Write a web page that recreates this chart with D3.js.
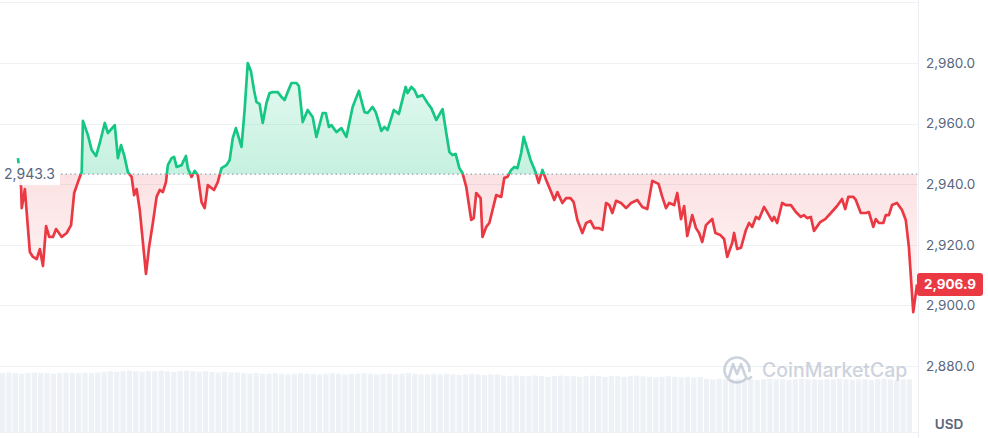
<!DOCTYPE html>
<html>
<head>
<meta charset="utf-8">
<script src="https://cdn.jsdelivr.net/npm/d3@7"></script>
<style>
body { margin: 0; background: #fff; }
svg { display: block; font-family: Inter, "Noto Sans", sans-serif; }
</style>
</head>
<body>
<script>
var width = 988,
  height = 438;

// minutes since the start of the day, and the price at each of them
var minutes = [
  0,5,6,11,19,24,30,35,40,45,
  50,56,61,70,78,85,90,96,102,104,
  112,118,125,131,139,144,155,160,165,170,
  176,182,186,190,195,205,210,216,222,227,
  232,237,240,246,250,254,262,269,272,278,
  283,288,294,299,304,314,320,326,334,339,
  344,349,358,363,368,373,378,382,387,392,
  398,403,408,416,422,427,432,438,446,450,
  456,464,472,478,488,493,498,502,510,518,
  526,536,546,555,560,568,573,582,587,592,
  602,610,621,624,630,635,640,648,656,662,
  670,680,686,691,696,701,707,712,718,726,
  730,734,741,744,750,755,766,774,779,784,
  790,795,800,806,810,814,821,829,834,840,
  846,854,859,864,872,878,885,890,896,904,
  910,917,923,931,936,942,947,952,958,966,
  974,982,992,1000,1008,1016,1026,1032,1038,1043,
  1051,1056,1062,1067,1072,1080,1086,1091,1096,1102,
  1112,1117,1125,1131,1136,1144,1147,1152,1158,1166,
  1171,1176,1182,1187,1195,1200,1208,1211,1216,1224,
  1230,1238,1246,1254,1259,1264,1270,1275,1285,1293,
  1302,1312,1320,1325,1330,1338,1342,1350,1358,1363,
  1370,1374,1379,1386,1390,1395,1400,1408,1416,1422,
  1427,1434,1440
];

var prices = [
  2948.6,2938.7,2932.1,2938.4,2917.6,2916.0,2915.3,2918.6,2913.0,2926.2,
  2922.6,2922.6,2925.2,2922.6,2923.9,2926.5,2937.1,2940.7,2944.0,2960.9,
  2956.2,2951.3,2949.3,2953.6,2960.2,2956.9,2959.5,2948.6,2952.9,2949.6,
  2944.0,2942.4,2936.4,2938.4,2931.5,2910.4,2919.3,2927.2,2935.8,2938.1,
  2937.4,2940.7,2946.3,2948.6,2949.0,2945.7,2946.3,2949.3,2945.3,2942.4,
  2944.4,2943.0,2934.1,2932.1,2939.7,2938.1,2940.7,2945.3,2946.3,2948.0,
  2955.2,2958.5,2952.3,2964.5,2980.0,2977.4,2971.1,2967.1,2966.5,2960.2,
  2966.8,2970.1,2970.4,2970.4,2968.8,2967.8,2970.4,2973.4,2973.4,2972.4,
  2960.5,2964.5,2962.2,2955.6,2963.5,2963.5,2958.9,2959.5,2957.2,2958.5,
  2955.6,2965.5,2970.8,2963.8,2963.5,2965.5,2963.8,2957.6,2958.9,2957.9,
  2964.5,2963.2,2972.1,2970.1,2972.1,2971.1,2968.8,2969.4,2966.8,2965.1,
  2961.2,2964.8,2956.9,2950.6,2949.6,2950.0,2945.3,2943.7,2939.1,2928.2,
  2928.8,2937.1,2935.4,2922.6,2925.9,2927.2,2936.4,2935.8,2942.1,2942.4,
  2944.7,2945.7,2945.3,2950.3,2955.6,2952.9,2948.0,2944.0,2940.4,2944.7,
  2941.4,2937.4,2934.8,2937.4,2933.8,2935.4,2935.4,2934.1,2928.2,2923.9,
  2927.2,2927.9,2925.5,2925.5,2924.9,2933.8,2933.1,2930.5,2934.5,2933.8,
  2932.1,2933.8,2934.8,2932.5,2931.8,2941.1,2940.1,2935.8,2932.1,2933.8,
  2933.1,2937.1,2928.5,2932.8,2922.9,2929.8,2925.5,2923.9,2920.9,2926.5,
  2928.5,2923.9,2923.2,2921.9,2916.0,2920.6,2923.9,2918.6,2919.0,2924.9,
  2927.2,2925.9,2929.2,2928.5,2932.5,2930.8,2927.9,2929.2,2927.2,2933.8,
  2933.1,2933.1,2930.8,2929.2,2929.8,2928.8,2929.2,2924.6,2927.5,2928.5,
  2930.5,2932.8,2935.1,2931.8,2935.8,2935.8,2934.8,2930.5,2930.5,2930.8,
  2925.9,2928.5,2927.2,2927.2,2929.8,2929.8,2933.1,2933.8,2931.5,2928.2,
  2919.3,2897.8,2906.9
];

// relative volume, one bar every 10 minutes
var volumes = [
  95,96,95,94,95,96,95,95,94,95,96,95,95,96,95,96,
  97,98,97,98,99,98,97,98,98,99,98,97,98,99,98,97,98,97,96,97,96,96,
  95,94,95,94,94,95,94,93,94,95,94,94,93,94,95,94,93,94,94,95,94,93,94,94,93,94,95,94,93,93,94,93,94,93,92,93,94,93,92,93,93,
  91,90,91,90,90,91,90,89,90,91,90,90,89,90,91,90,89,90,90,89,90,91,90,89,88,89,90,89,88,89,88,89,
  86,85,86,85,85,86,85,85,84,85,86,85,85,84,85,86,85,85,84,85,85,86,85,84,85,85,84,85,86,85,84,85,85
];

var openPrice = 2943.3;
var lastPrice = 2906.9;
var gridTicks = [2880, 2900, 2920, 2940, 2960, 2980, 3000];
var labelTicks = [2880, 2900, 2920, 2940, 2960, 2980];

var green = "#16c784",
  red = "#ea3943",
  textGray = "#58667e",
  gridColor = "#eff2f5";

var plotRight = 918;

var svg = d3.select("body").append("svg")
  .attr("width", width)
  .attr("height", height);

var x = d3.scaleLinear().domain([0, 1440]).range([18, 917]);
var y = d3.scaleLinear().domain([2880, 2980]).range([366, 63]);
var vx = d3.scaleBand().domain(d3.range(volumes.length)).range([0, 912]).paddingInner(0.18);
var vy = d3.scaleLinear().domain([0, 100]).range([432, 370]);

var data = minutes.map(function(m, i) { return {m: m, p: prices[i]}; });
var yBase = y(openPrice);

var defs = svg.append("defs");

var gUp = defs.append("linearGradient")
  .attr("id", "gradUp")
  .attr("gradientUnits", "userSpaceOnUse")
  .attr("x1", 0).attr("x2", 0)
  .attr("y1", y(2980)).attr("y2", yBase);
gUp.append("stop").attr("offset", 0).attr("stop-color", green).attr("stop-opacity", 0.1);
gUp.append("stop").attr("offset", 1).attr("stop-color", green).attr("stop-opacity", 0.25);

var gDown = defs.append("linearGradient")
  .attr("id", "gradDown")
  .attr("gradientUnits", "userSpaceOnUse")
  .attr("x1", 0).attr("x2", 0)
  .attr("y1", yBase).attr("y2", y(2895));
gDown.append("stop").attr("offset", 0).attr("stop-color", red).attr("stop-opacity", 0.15);
gDown.append("stop").attr("offset", 1).attr("stop-color", red).attr("stop-opacity", 0.02);

defs.append("clipPath").attr("id", "clipUp")
  .append("rect").attr("x", 0).attr("y", 0).attr("width", plotRight).attr("height", yBase);
defs.append("clipPath").attr("id", "clipDown")
  .append("rect").attr("x", 0).attr("y", yBase).attr("width", plotRight).attr("height", height - yBase);

// volume
svg.append("g")
  .selectAll("rect")
  .data(volumes)
  .enter().append("rect")
    .attr("x", function(d, i) { return vx(i); })
    .attr("y", function(d) { return vy(d); })
    .attr("width", vx.bandwidth())
    .attr("height", function(d) { return vy(0) - vy(d); })
    .attr("fill", "#eef1f5");

// grid
svg.append("g")
  .selectAll("line")
  .data(gridTicks)
  .enter().append("line")
    .attr("x1", 0)
    .attr("x2", plotRight)
    .attr("y1", function(d) { return Math.round(y(d)) + 0.5; })
    .attr("y2", function(d) { return Math.round(y(d)) + 0.5; })
    .attr("stroke", gridColor);

svg.append("line")
  .attr("x1", 0).attr("x2", plotRight)
  .attr("y1", 432.5).attr("y2", 432.5)
  .attr("stroke", gridColor);

svg.append("line")
  .attr("x1", plotRight + 0.5).attr("x2", plotRight + 0.5)
  .attr("y1", 0).attr("y2", height)
  .attr("stroke", "#eaedf1");

// watermark
var wm = svg.append("g").attr("opacity", 0.55);
wm.append("path")
  .attr("d", d3.arc()({innerRadius: 12.5, outerRadius: 12.5, startAngle: Math.PI * 0.7, endAngle: Math.PI * 2.55}))
  .attr("transform", "translate(737,370)")
  .attr("fill", "none")
  .attr("stroke", "#a6b0c3")
  .attr("stroke-width", 2.6)
  .attr("stroke-linecap", "round");
wm.append("path")
  .attr("d", "M729,377 L733,364 L737,374 L741,364 L745,375 C746,379 749,380 751,377")
  .attr("fill", "none")
  .attr("stroke", "#a6b0c3")
  .attr("stroke-width", 2.6)
  .attr("stroke-linejoin", "round")
  .attr("stroke-linecap", "round");
wm.append("text")
  .attr("x", 762)
  .attr("y", 377)
  .attr("font-size", 19.5)
  .attr("font-weight", 500)
  .attr("fill", "#a6b0c3")
  .text("CoinMarketCap");

// areas
var area = d3.area()
  .x(function(d) { return x(d.m); })
  .y0(yBase)
  .y1(function(d) { return y(d.p); });

var line = d3.line()
  .x(function(d) { return x(d.m); })
  .y(function(d) { return y(d.p); });

svg.append("path")
  .datum(data)
  .attr("clip-path", "url(#clipUp)")
  .attr("d", area)
  .attr("fill", "url(#gradUp)");

svg.append("path")
  .datum(data)
  .attr("clip-path", "url(#clipDown)")
  .attr("d", area)
  .attr("fill", "url(#gradDown)");

// baseline
svg.append("line")
  .attr("x1", 61).attr("x2", plotRight)
  .attr("y1", yBase).attr("y2", yBase)
  .attr("stroke", "#98a2b5")
  .attr("stroke-width", 1.2)
  .attr("stroke-dasharray", "1.5,3");

svg.append("path")
  .datum(data)
  .attr("clip-path", "url(#clipUp)")
  .attr("d", line)
  .attr("fill", "none")
  .attr("stroke", green)
  .attr("stroke-width", 2.7)
  .attr("stroke-linejoin", "round");

svg.append("path")
  .datum(data)
  .attr("clip-path", "url(#clipDown)")
  .attr("d", line)
  .attr("fill", "none")
  .attr("stroke", red)
  .attr("stroke-width", 2.7)
  .attr("stroke-linejoin", "round");

// open price label
svg.append("rect")
  .attr("x", 0).attr("y", yBase - 11)
  .attr("width", 60).attr("height", 22)
  .attr("fill", "#fff")
  .attr("fill-opacity", 0.92);
svg.append("text")
  .attr("x", 4)
  .attr("y", yBase + 5)
  .attr("font-size", 14)
  .attr("fill", textGray)
  .text(d3.format(",.1f")(openPrice));

// price axis
var axis = svg.append("g")
  .attr("transform", "translate(" + plotRight + ",0)")
  .call(d3.axisRight(y).tickValues(labelTicks).tickSize(0).tickPadding(8).tickFormat(d3.format(",.1f")));
axis.select(".domain").remove();
axis.selectAll("text")
  .attr("font-family", "Inter, 'Noto Sans', sans-serif")
  .attr("font-size", 13.5)
  .attr("fill", textGray);

// last price tag
var tag = svg.append("g").attr("transform", "translate(917," + y(lastPrice) + ")");
tag.append("rect")
  .attr("x", 0).attr("y", -11.5)
  .attr("width", 66).attr("height", 23)
  .attr("rx", 3)
  .attr("fill", red);
tag.append("text")
  .attr("x", 33).attr("y", 5)
  .attr("text-anchor", "middle")
  .attr("font-size", 13.5)
  .attr("font-weight", 700)
  .attr("fill", "#fff")
  .text(d3.format(",.1f")(lastPrice));

svg.append("text")
  .attr("x", 949)
  .attr("y", 429)
  .attr("text-anchor", "middle")
  .attr("font-size", 13.5)
  .attr("font-weight", 600)
  .attr("fill", textGray)
  .text("USD");
</script>
</body>
</html>
